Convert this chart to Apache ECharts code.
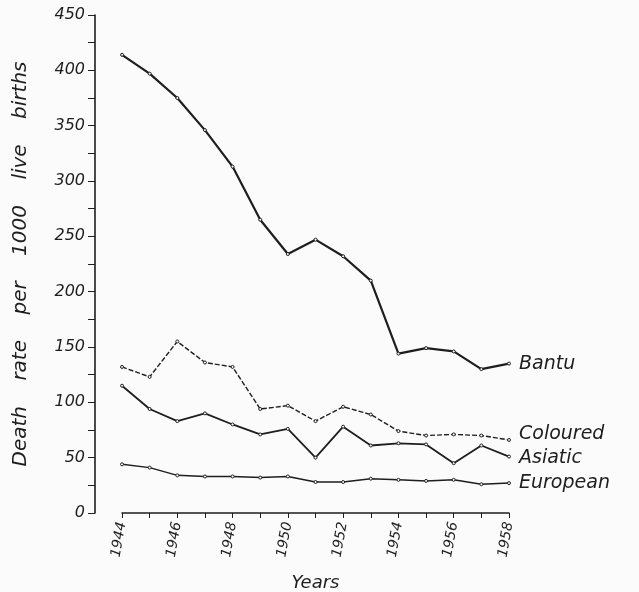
<!DOCTYPE html>
<html>
<head>
<meta charset="utf-8">
<script src="https://cdn.jsdelivr.net/npm/echarts@6/dist/echarts.min.js"></script>
<style>
  html, body { margin: 0; padding: 0; background: #fbfbfb; }
  #chart { width: 639px; height: 592px; }
</style>
</head>
<body>
<div id="chart"></div>
<script>
// years on the x axis
var years = ["1944", "1945", "1946", "1947", "1948", "1949", "1950", "1951",
  "1952", "1953", "1954", "1955", "1956", "1957", "1958"];

// death rate per 1000 live births
var bantu = [414, 397, 375, 346, 313, 265, 234, 247, 232, 210, 144, 149, 146, 130, 135];
var coloured = [132, 123, 155, 136, 132, 94, 97, 83, 96, 89, 74, 70, 71, 70, 66];
var asiatic = [115, 94, 83, 90, 80, 71, 76, 50, 78, 61, 63, 62, 45, 61, 51];
var european = [44, 41, 34, 33, 33, 32, 33, 28, 28, 31, 30, 29, 30, 26, 27];

var font = "DejaVu Sans";
var ink = "#1e1e1e";

function withEndLabel(arr, name, dy) {
  return arr.map(function (v, i) {
    if (i !== arr.length - 1) return v;
    return {
      value: v,
      label: {
        show: true,
        position: "right",
        distance: 8,
        offset: [0, dy],
        formatter: name,
        color: ink,
        fontFamily: font,
        fontStyle: "italic",
        fontSize: 19
      }
    };
  });
}

function makeSeries(name, arr, width, dashed, dy) {
  return {
    name: name,
    type: "line",
    data: withEndLabel(arr, name, dy),
    symbol: "circle",
    symbolSize: 3,
    itemStyle: { color: "#fbfbfb", borderColor: ink, borderWidth: 1 },
    lineStyle: { color: ink, width: width, type: dashed ? [5, 2] : "solid" },
    z: 3
  };
}

var chart = echarts.init(document.getElementById("chart"));
chart.setOption({
  animation: false,
  backgroundColor: "#fbfbfb",
  grid: { left: 122, right: 130, top: 15, bottom: 79, outerBoundsMode: "none", containLabel: false },
  xAxis: {
    type: "category",
    boundaryGap: false,
    data: years,
    name: "Years",
    nameLocation: "middle",
    nameGap: 61,
    nameTextStyle: { color: ink, fontFamily: font, fontStyle: "italic", fontSize: 18 },
    axisLine: { lineStyle: { color: ink, width: 1.6 } },
    axisTick: { show: true, interval: 0, length: 5, lineStyle: { color: ink } },
    axisLabel: {
      interval: 1,
      rotate: 80,
      margin: 9,
      color: ink,
      fontFamily: font,
      fontStyle: "italic",
      fontSize: 14
    },
    splitLine: { show: false }
  },
  yAxis: {
    type: "value",
    min: 0,
    max: 450,
    interval: 25,
    offset: 27,
    name: "Death    rate    per    1000    live    births",
    nameLocation: "middle",
    nameGap: 64,
    nameRotate: 90,
    nameTextStyle: { color: ink, fontFamily: font, fontStyle: "italic", fontSize: 20 },
    axisLine: { show: true, lineStyle: { color: ink, width: 1.6 } },
    axisTick: { show: true, length: 7, lineStyle: { color: ink } },
    axisLabel: {
      margin: 10,
      color: ink,
      fontFamily: font,
      fontStyle: "italic",
      fontSize: 16,
      formatter: function (v) { return v % 50 === 0 ? String(v) : ""; }
    },
    splitLine: { show: false }
  },
  series: [
    makeSeries("Bantu", bantu, 2.2, false, 0),
    makeSeries("Coloured", coloured, 1.4, true, -6),
    makeSeries("Asiatic", asiatic, 1.8, false, 2),
    makeSeries("European", european, 1.5, false, 0)
  ]
});
</script>
</body>
</html>
